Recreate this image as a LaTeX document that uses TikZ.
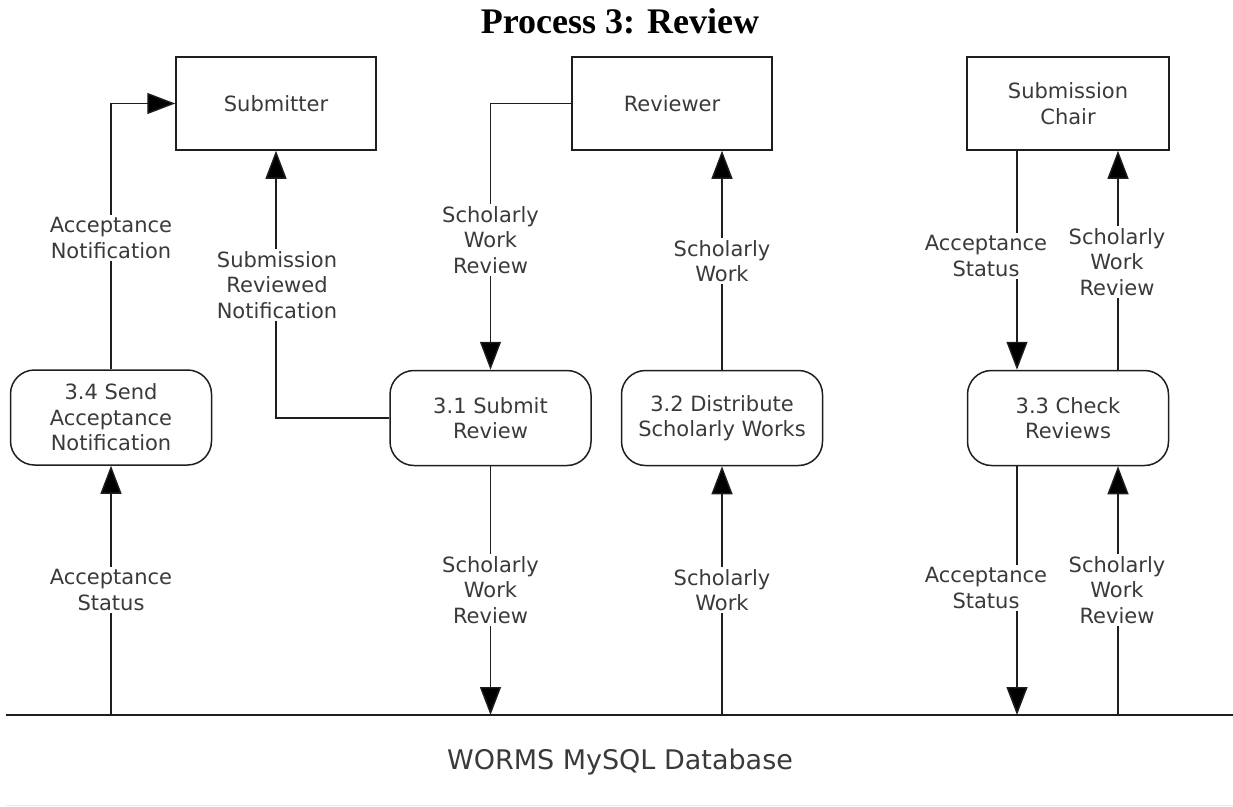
\documentclass[tikz,border=0pt]{standalone}
\usepackage{fontspec}
\setmainfont{DejaVu Sans}
\newfontfamily\titlefont{Liberation Serif}
\usetikzlibrary{arrows.meta}
\definecolor{ink}{HTML}{1E1E1E}
\definecolor{txt}{HTML}{3A3A3A}
\tikzset{
  entity/.style={draw=ink, line width=1.5pt, minimum width=200pt, minimum height=93pt,
    inner sep=0pt, align=center, text=txt, font=\fontsize{21}{25.5}\selectfont},
  proc/.style={entity, rounded corners=24pt, minimum height=95pt, minimum width=201pt},
  flow/.style={draw=ink, line width=1.4pt, -{Triangle[length=28pt, width=21pt, fill=black]}},
  lbl/.style={fill=white, inner sep=2pt, align=center, text=txt,
    font=\fontsize{21}{25.5}\selectfont},
}
\begin{document}
\begin{tikzpicture}[x=1pt, y=-1pt]
\useasboundingbox (0,0) rectangle (1233,806);

% title
\node (title) at (620,21) {\titlefont\bfseries\fontsize{36}{42}\selectfont Process 3: Review};

% external entities
\node[entity] (sub) at (276,103.5) {Submitter};
\node[entity] (rev) at (672,103.5) {Reviewer};
\node[entity, minimum width=202pt] (chair) at (1068,103.5) {Submission\\Chair};

% processes
\node[proc] (p34) at (111,417.5) {3.4 Send\\Acceptance\\Notification};
\node[proc] (p31) at (490.5,418) {3.1 Submit\\Review};
\node[proc] (p32) at (722,418) {3.2 Distribute\\Scholarly Works};
\node[proc] (p33) at (1068,418) {3.3 Check\\Reviews};

% data store
\coordinate (dbL) at (6,715);
\coordinate (dbR) at (1233,715);
\draw[draw=ink, line width=2.4pt] (dbL) -- (dbR);
\draw[draw=black!8, line width=1pt] (6,805) -- (1233,805);
\node[text=txt, font=\fontsize{27}{30}\selectfont] (db) at (620,762) {WORMS MySQL Database};

% upper flows
\draw[flow] (p34.north) |- (sub.west);
\draw[flow] (p31.west) -| (sub.south);
\draw[flow] (rev.west) -| (p31.north);
\draw[flow] (p32.north) -- (p32.north |- rev.south);
\draw[flow] ([xshift=-51pt]chair.south) -- ([xshift=-51pt]p33.north);
\draw[flow] ([xshift=50pt]p33.north) -- ([xshift=50pt]chair.south);

% lower flows
\draw[flow] (p34.south |- dbL) -- (p34.south);
\draw[flow] (p31.south) -- (p31.south |- dbL);
\draw[flow] (p32.south |- dbL) -- (p32.south);
\draw[flow] ([xshift=-51pt]p33.south) -- ([xshift=-51pt]p33.south |- dbL);
\draw[flow] ([xshift=50pt]p33.south |- dbL) -- ([xshift=50pt]p33.south);

% flow labels
\node[lbl] (l1) at (111,238) {Acceptance\\Notification};
\node[lbl] (l2) at (277,285) {Submission\\Reviewed\\Notification};
\node[lbl] (l3) at (490.5,240) {Scholarly\\Work\\Review};
\node[lbl] (l4) at (722,261) {Scholarly\\Work};
\node[lbl] (l5) at (986,256) {Acceptance\\Status};
\node[lbl] (l6) at (1117,262) {Scholarly\\Work\\Review};
\node[lbl] (l7) at (111,590) {Acceptance\\Status};
\node[lbl] (l8) at (490.5,590) {Scholarly\\Work\\Review};
\node[lbl] (l9) at (722,590) {Scholarly\\Work};
\node[lbl] (l10) at (986,588) {Acceptance\\Status};
\node[lbl] (l11) at (1117,590) {Scholarly\\Work\\Review};
\end{tikzpicture}
\end{document}
